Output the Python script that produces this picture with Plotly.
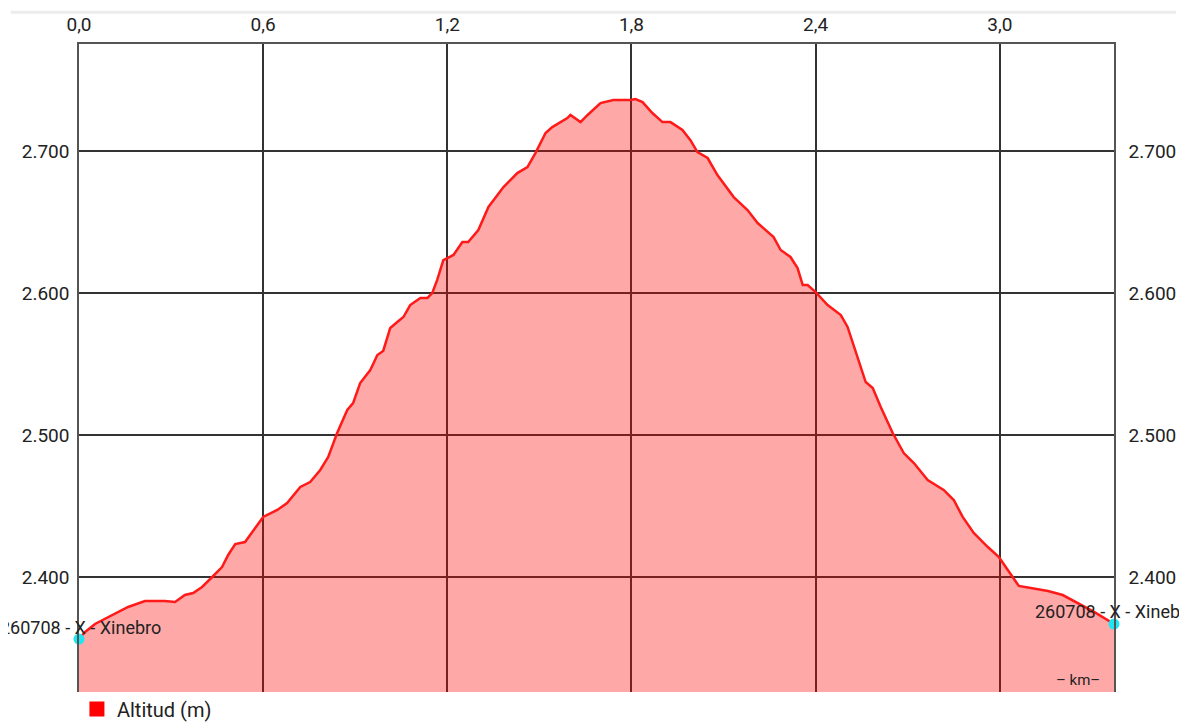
import plotly.graph_objects as go

# Distance along track (km) and altitude (m)
distance_km = [0.000, 0.020, 0.052, 0.095, 0.160, 0.215, 0.280, 0.313, 0.345, 0.372,
               0.401, 0.434, 0.466, 0.486, 0.509, 0.541, 0.574, 0.600, 0.646, 0.678,
               0.721, 0.753, 0.786, 0.812, 0.841, 0.874, 0.893, 0.916, 0.949, 0.972,
               0.991, 1.014, 1.037, 1.057, 1.079, 1.112, 1.135, 1.151, 1.167, 1.187,
               1.220, 1.249, 1.268, 1.301, 1.334, 1.383, 1.428, 1.461, 1.487, 1.520,
               1.542, 1.591, 1.601, 1.634, 1.657, 1.699, 1.741, 1.797, 1.813, 1.836,
               1.868, 1.901, 1.927, 1.966, 1.992, 2.015, 2.048, 2.080, 2.133, 2.178,
               2.211, 2.263, 2.286, 2.318, 2.341, 2.358, 2.374, 2.400, 2.439, 2.482,
               2.504, 2.537, 2.563, 2.586, 2.612, 2.651, 2.687, 2.720, 2.765, 2.817,
               2.850, 2.879, 2.915, 2.961, 2.997, 3.026, 3.062, 3.101, 3.157, 3.205,
               3.254, 3.307, 3.372]
altitude_m = [2356.3, 2361.3, 2366.9, 2371.8, 2378.9, 2383.1, 2383.1, 2382.4, 2387.3, 2388.7,
              2393.0, 2400.0, 2407.0, 2415.5, 2423.2, 2424.6, 2434.5, 2442.3, 2447.2, 2452.1,
              2463.4, 2466.9, 2475.4, 2484.5, 2501.4, 2517.6, 2522.5, 2536.6, 2545.8, 2556.3,
              2559.2, 2575.4, 2579.6, 2583.1, 2591.5, 2596.5, 2596.5, 2600.0, 2609.2, 2623.2,
              2626.8, 2635.9, 2635.9, 2644.4, 2660.6, 2674.6, 2684.5, 2688.7, 2698.6, 2712.7,
              2716.9, 2723.2, 2725.4, 2720.4, 2725.4, 2733.8, 2735.9, 2735.9, 2736.6, 2734.5,
              2726.8, 2720.4, 2720.4, 2714.8, 2707.7, 2699.3, 2695.1, 2683.1, 2667.6, 2658.5,
              2649.3, 2639.4, 2630.3, 2625.4, 2617.6, 2605.6, 2605.6, 2600.7, 2591.5, 2584.5,
              2576.1, 2554.9, 2537.3, 2533.1, 2519.7, 2501.4, 2487.3, 2480.3, 2468.3, 2461.3,
              2454.2, 2442.3, 2431.0, 2421.1, 2414.1, 2404.9, 2393.7, 2392.3, 2390.1, 2387.3,
              2381.7, 2375.4, 2366.9]

x_tick_vals = [0.0, 0.6, 1.2, 1.8, 2.4, 3.0]
x_tick_text = ["0,0", "0,6", "1,2", "1,8", "2,4", "3,0"]
y_tick_vals = [2400, 2500, 2600, 2700]
y_tick_text = ["2.400", "2.500", "2.600", "2.700"]
waypoint_name = "260708 - X - Xinebro"
series_name = "Altitud (m)"
x_unit_label = "– km–"

x_range = [0, 3.372]
y_range = [2319.0, 2775.4]

fig = go.Figure()

fig.add_trace(go.Scatter(
    x=distance_km, y=altitude_m, mode="lines",
    line=dict(color="#ff1a1a", width=2.5),
    fill="tozeroy", fillcolor="rgba(255,0,0,0.34)",
    showlegend=False, hoverinfo="skip",
))

# waypoint markers at start and end
fig.add_trace(go.Scatter(
    x=[distance_km[0], distance_km[-1]], y=[altitude_m[0], altitude_m[-1]],
    mode="markers", marker=dict(color="#1de6f2", size=11),
    showlegend=False, cliponaxis=False, hoverinfo="skip",
))

# legend entry
fig.add_trace(go.Scatter(
    x=[None], y=[None], mode="markers", name=series_name,
    marker=dict(symbol="square", color="#ff0000", size=15),
    showlegend=True,
))

# invisible trace to activate right axis
fig.add_trace(go.Scatter(
    x=[distance_km[0]], y=[altitude_m[0]], yaxis="y2", mode="markers",
    marker=dict(opacity=0), showlegend=False, hoverinfo="skip",
))

for xv, yv in [(distance_km[0], altitude_m[0]), (distance_km[-1], altitude_m[-1])]:
    fig.add_annotation(
        x=xv, y=yv, text=waypoint_name, showarrow=False,
        xanchor="center", yanchor="middle", xshift=1, yshift=12,
        font=dict(family="Roboto", size=18, color="#222"),
    )

fig.add_annotation(
    x=1, y=0, xref="paper", yref="paper", text=x_unit_label, showarrow=False,
    xanchor="right", yanchor="middle", xshift=-12, yshift=12,
    font=dict(family="Roboto", size=15, color="#222"),
)

# faint decorative frame lines of the screenshot
fig.add_shape(type="line", xref="paper", yref="paper",
              x0=-0.066, x1=1.06, y0=1.049, y1=1.049,
              line=dict(color="#ececec", width=3))
fig.add_shape(type="line", xref="paper", yref="paper",
              x0=1.066, x1=1.066, y0=1.049, y1=-0.05,
              line=dict(color="#f0f0f0", width=3))

axis_font = dict(family="Roboto", size=19, color="#222")

fig.update_layout(
    width=1187, height=724,
    margin=dict(l=71, r=81, t=36, b=40, autoexpand=False),
    paper_bgcolor="white", plot_bgcolor="white",
    font=dict(family="Roboto"),
    xaxis=dict(
        side="top", range=x_range, tickvals=x_tick_vals, ticktext=x_tick_text,
        showgrid=True, gridcolor="#333", gridwidth=1.6,
        showline=True, linecolor="#555", linewidth=1.5,
        zeroline=False, ticks="", tickfont=axis_font, ticklabelstandoff=4,
        automargin=False,
    ),
    yaxis=dict(
        range=y_range, tickvals=y_tick_vals, ticktext=y_tick_text,
        showgrid=True, gridcolor="#333", gridwidth=1.6,
        showline=True, linecolor="#555", linewidth=1.5,
        zeroline=False, ticks="", tickfont=axis_font, ticklabelstandoff=4,
        automargin=False,
    ),
    yaxis2=dict(
        range=y_range, tickvals=y_tick_vals, ticktext=y_tick_text,
        overlaying="y", side="right", showgrid=False,
        showline=True, linecolor="#555", linewidth=1.5,
        zeroline=False, ticks="", tickfont=axis_font, ticklabelstandoff=9,
        automargin=False,
    ),
    legend=dict(
        x=-0.002, y=0.004, xanchor="left", yanchor="top", orientation="h",
        font=dict(family="Roboto", size=20, color="#222"),
        bgcolor="rgba(0,0,0,0)", itemwidth=30,
    ),
)

fig.write_html("out.html")
